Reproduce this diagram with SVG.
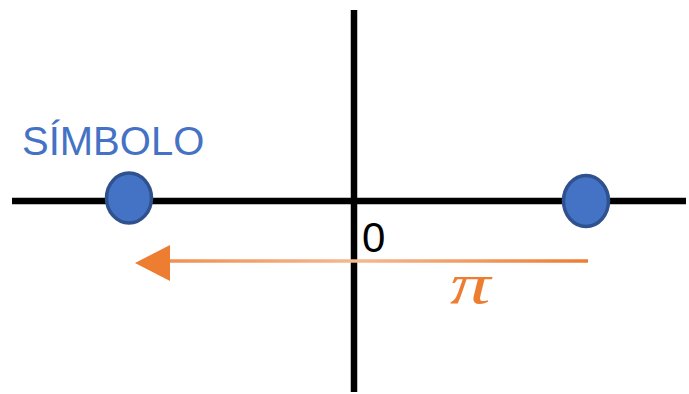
<svg xmlns="http://www.w3.org/2000/svg" width="689" height="394" viewBox="0 0 689 394">
<style>
.axis{stroke:#000;stroke-width:6.5;fill:none}
.sym{fill:#4472C4;stroke:#2F528F;stroke-width:3.5}
.lbl{font-family:"Liberation Sans",Arial,sans-serif}
</style>
<defs>
<linearGradient id="og" gradientUnits="userSpaceOnUse" x1="168" y1="0" x2="588" y2="0">
<stop offset="0" stop-color="#F09050"/>
<stop offset="0.45" stop-color="#F5B891"/>
<stop offset="1" stop-color="#ED7D31"/>
</linearGradient>
</defs>
<g id="axes">
<line class="axis" x1="12" y1="201" x2="686" y2="201"/>
<line class="axis" x1="354" y1="10" x2="354" y2="392"/>
</g>
<g id="symbol-left">
<ellipse class="sym" cx="129" cy="198" rx="22.5" ry="25"/>
</g>
<g id="symbol-right">
<ellipse class="sym" cx="586" cy="201" rx="22.5" ry="25.5"/>
</g>
<g id="label-simbolo">
<text class="lbl" x="22" y="155" font-size="40" fill="#4472C4">SÍMBOLO</text>
</g>
<g id="label-zero">
<text class="lbl" x="362" y="252" font-size="42" fill="#000">0</text>
</g>
<g id="connectors">
<line x1="168" y1="261" x2="588" y2="261" stroke="url(#og)" stroke-width="3.5"/>
<polygon points="135,263 170,245 170,281" fill="#ED7D31"/>
</g>
<g id="label-pi">
<text x="0" y="0" transform="translate(450,303) scale(1.4,1)" font-family="'Liberation Serif','DejaVu Serif',serif" font-style="italic" font-size="58" fill="#ED7D31">π</text>
</g>
</svg>
